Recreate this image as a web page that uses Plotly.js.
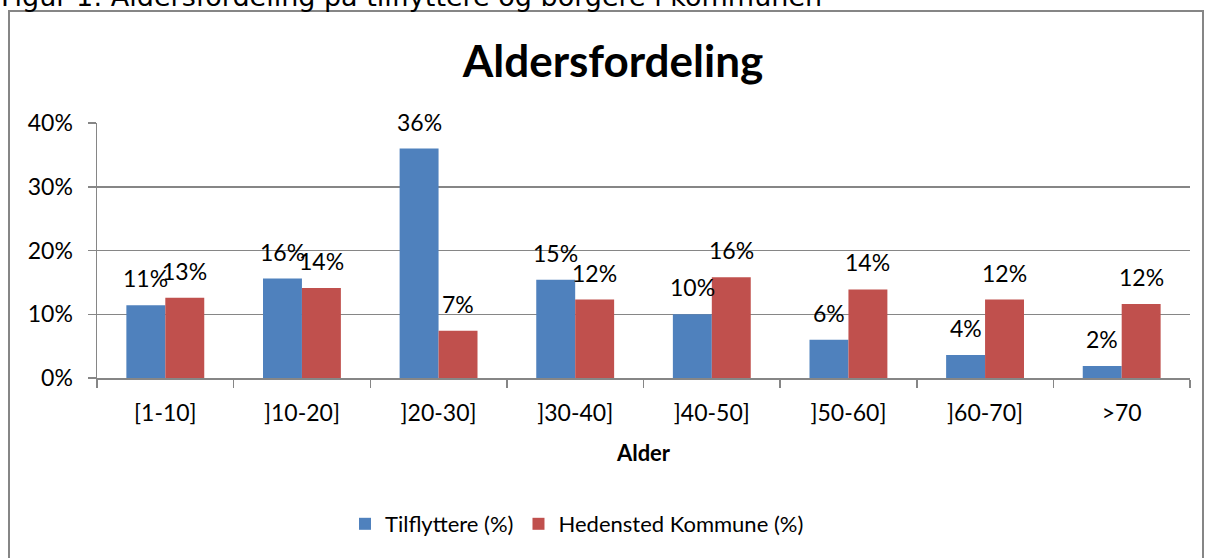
<!DOCTYPE html>
<html>
<head>
<meta charset="utf-8">
<script src="https://cdn.plot.ly/plotly-3.0.1.min.js"></script>
<style>
  html, body { margin: 0; padding: 0; background: #fff; overflow: hidden; }
  #chart { width: 1208px; height: 558px; }
</style>
</head>
<body>
<div id="chart"></div>
<script>
// ---- data ----
const categories = ['[1-10]', ']10-20]', ']20-30]', ']30-40]', ']40-50]', ']50-60]', ']60-70]', '>70'];
const tilflyttere = [0.114, 0.156, 0.360, 0.154, 0.100, 0.060, 0.036, 0.019];
const hedensted   = [0.126, 0.141, 0.074, 0.123, 0.158, 0.139, 0.123, 0.116];
const seriesNames = ['Tilflyttere (%)', 'Hedensted Kommune (%)'];
const yTicks = [0, 0.1, 0.2, 0.3, 0.4];
const chartTitle = 'Aldersfordeling';
const xTitle = 'Alder';
const caption = 'Figur 1: Aldersfordeling på tilflyttere og borgere i kommunen';

// ---- layout geometry ----
const W = 1208, H = 558;
const M = {l: 97, r: 18, t: 123, b: 180};
const pw = W - M.l - M.r, ph = H - M.t - M.b;
const px = v => (v - M.l) / pw;          // pixel x -> paper
const py = v => (H - M.b - v) / ph;       // pixel y -> paper
const bargap = 0.43;
const barHalf = (pw / categories.length) * (1 - bargap) / 4;

const FONT = 'Lato, "Open Sans", sans-serif';
const grey = '#868686';
const colors = ['#4F81BD', '#C0504D'];

const traces = [tilflyttere, hedensted].map((vals, i) => ({
  type: 'bar',
  name: seriesNames[i],
  x: categories,
  y: vals,
  marker: {color: colors[i], line: {width: 0}},
  hoverinfo: 'x+y'
}));

const annotations = [];
[tilflyttere, hedensted].forEach((vals, i) => {
  vals.forEach((v, j) => {
    annotations.push({
      x: categories[j], y: v, xref: 'x', yref: 'y',
      text: Math.round(v * 100) + '%',
      showarrow: false,
      xshift: (i === 0 ? -1 : 1) * barHalf,
      yshift: 27,
      font: {family: FONT, size: 23, color: '#000'}
    });
  });
});
annotations.push({
  xref: 'paper', yref: 'paper', x: px(-1), y: py(7),
  xanchor: 'left', yanchor: 'bottom', yshift: -7,
  text: caption, showarrow: false,
  font: {family: '"DejaVu Sans", Verdana, sans-serif', size: 27, color: '#000'}
});

const layout = {
  width: W, height: H,
  margin: M,
  paper_bgcolor: '#fff', plot_bgcolor: '#fff',
  showlegend: true,
  title: {
    text: '<b>' + chartTitle + '</b>',
    font: {family: FONT, size: 44, color: '#000'},
    x: (px(613)), xref: 'paper', xanchor: 'center',
    y: 1 - 62 / H, yanchor: 'middle'
  },
  barmode: 'group',
  bargap: bargap,
  bargroupgap: 0,
  xaxis: {
    type: 'category',
    showgrid: false,
    showline: true, linecolor: grey, linewidth: 1.5,
    ticks: 'outside', tickson: 'boundaries', ticklen: 8, tickcolor: grey, tickwidth: 1.5,
    tickfont: {family: FONT, size: 23, color: '#000'},
    ticklabelstandoff: 14,
    title: {text: '<b>' + xTitle + '</b>', font: {family: FONT, size: 22, color: '#000'}, standoff: 20},
    fixedrange: true
  },
  yaxis: {
    range: [0, 0.4],
    tickvals: yTicks,
    tickformat: '.0%',
    showgrid: true, gridcolor: grey, gridwidth: 1.5,
    showline: true, linecolor: grey, linewidth: 1.5,
    ticks: 'outside', ticklen: 8, tickcolor: grey, tickwidth: 1.5,
    tickfont: {family: FONT, size: 23, color: '#000'},
    ticklabelstandoff: 10,
    zeroline: false,
    fixedrange: true
  },
  legend: {
    orientation: 'h',
    x: px(577), xanchor: 'center',
    y: py(524), yanchor: 'middle',
    font: {family: FONT, size: 22, color: '#000'},
    bgcolor: 'rgba(0,0,0,0)'
  },
  annotations: annotations,
  shapes: [{
    type: 'rect', xref: 'paper', yref: 'paper',
    x0: px(9), x1: px(1203), y0: py(600), y1: py(11),
    line: {color: grey, width: 2}, fillcolor: 'rgba(0,0,0,0)', layer: 'below'
  }]
};

Plotly.newPlot('chart', traces, layout, {displayModeBar: false, staticPlot: true});
</script>
</body>
</html>
